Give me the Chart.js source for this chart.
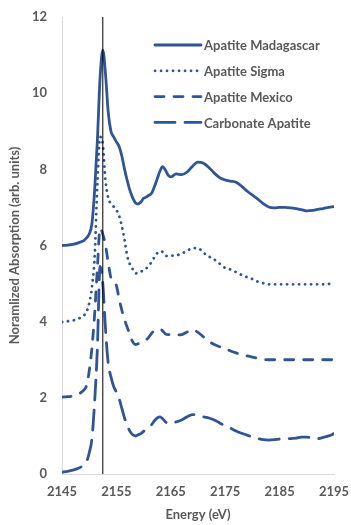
<!DOCTYPE html>
<html>
<head>
<meta charset="utf-8">
<script src="https://cdn.jsdelivr.net/npm/chart.js@4/dist/chart.umd.min.js"></script>
<style>
  html, body { margin: 0; padding: 0; background: #ffffff; }
  #wrap { width: 351px; height: 525px; }
</style>
</head>
<body>
<div id="wrap"><canvas id="c" width="351" height="525"></canvas></div>
<script>
// Photon energy grid (eV), finer across the absorption edge
const energy = [
  2145, 2146, 2147, 2148, 2149,
  2149.5, 2150, 2150.5, 2151, 2151.5, 2152, 2152.5, 2153, 2153.5, 2154, 2154.5,
  2155, 2155.5, 2156, 2156.5, 2157, 2157.5, 2158, 2158.5, 2159, 2159.5,
  2160, 2160.5, 2161, 2161.5, 2162, 2162.5, 2163, 2163.5, 2164, 2164.5, 2165,
  2166, 2167, 2168, 2169, 2170, 2171, 2172, 2173, 2174, 2175, 2176, 2177, 2178,
  2179, 2180, 2181, 2182, 2183, 2184, 2185, 2186, 2187, 2188, 2189, 2190, 2191,
  2192, 2193, 2194, 2195
];

// Normalized absorption, each spectrum stacked with a vertical offset
const apatiteMadagascar = [
  6.00, 6.01, 6.03, 6.07, 6.13,
  6.20, 6.30, 6.57, 7.45, 8.75, 10.4, 11.13, 10.5, 9.5, 9.0, 8.85,
  8.72, 8.60, 8.35, 8.00, 7.70, 7.44, 7.25, 7.12, 7.09, 7.14,
  7.24, 7.27, 7.32, 7.38, 7.55, 7.75, 7.95, 8.07, 7.98, 7.85, 7.80,
  7.88, 7.86, 7.93, 8.08, 8.19, 8.16, 8.05, 7.90, 7.78, 7.72, 7.69, 7.66, 7.56,
  7.43, 7.32, 7.22, 7.10, 7.01, 6.99, 7.00, 7.00, 6.99, 6.97, 6.94, 6.91, 6.92,
  6.95, 6.97, 7.00, 7.02
];
const apatiteSigma = [
  3.99, 4.01, 4.03, 4.08, 4.16,
  4.26, 4.48, 4.90, 5.70, 7.60, 8.85, 8.65, 7.70, 7.25, 7.10, 7.02,
  6.93, 6.78, 6.50, 6.15, 5.72, 5.50, 5.38, 5.27, 5.28, 5.31,
  5.36, 5.40, 5.48, 5.57, 5.70, 5.80, 5.85, 5.83, 5.74, 5.72, 5.73,
  5.74, 5.79, 5.86, 5.93, 5.93, 5.81, 5.71, 5.63, 5.52, 5.41, 5.37, 5.30, 5.23,
  5.17, 5.12, 5.05, 5.01, 4.98, 4.98, 4.98, 4.98, 4.98, 4.98, 4.98, 4.98, 4.98,
  4.98, 4.98, 4.99, 4.99
];
const apatiteMexico = [
  2.02, 2.03, 2.05, 2.10, 2.20,
  2.32, 2.70, 3.30, 4.20, 5.40, 6.45, 6.30, 6.00, 5.55, 5.15, 5.05,
  4.95, 4.60, 4.30, 4.05, 3.85, 3.65, 3.47, 3.40, 3.42, 3.46,
  3.50, 3.53, 3.60, 3.70, 3.76, 3.80, 3.80, 3.76, 3.68, 3.66, 3.66,
  3.65, 3.66, 3.73, 3.79, 3.72, 3.60, 3.48, 3.40, 3.34, 3.29, 3.23, 3.18, 3.14,
  3.10, 3.07, 3.04, 3.01, 3.00, 3.00, 3.00, 3.00, 3.00, 3.00, 3.00, 3.00, 3.00,
  3.00, 3.00, 3.00, 3.00
];
const carbonateApatite = [
  0.05, 0.07, 0.10, 0.15, 0.24,
  0.32, 0.55, 0.93, 1.90, 3.30, 5.45, 5.00, 3.80, 2.90, 2.55, 2.30,
  2.15, 1.98, 1.72, 1.47, 1.27, 1.12, 1.03, 1.00, 1.03, 1.06,
  1.12, 1.18, 1.24, 1.30, 1.40, 1.47, 1.50, 1.45, 1.37, 1.33, 1.33,
  1.37, 1.42, 1.50, 1.56, 1.54, 1.50, 1.47, 1.42, 1.34, 1.26, 1.20, 1.13, 1.07,
  1.02, 0.97, 0.93, 0.90, 0.89, 0.90, 0.92, 0.93, 0.93, 0.94, 0.97, 0.97, 0.94,
  0.93, 0.96, 1.00, 1.06
];

const seriesNames = ['Apatite Madagascar', 'Apatite Sigma', 'Apatite Mexico', 'Carbonate Apatite'];
const edgeEnergy = 2152.5;
const xTicks = [2145, 2155, 2165, 2175, 2185, 2195];
const yTicks = [0, 2, 4, 6, 8, 10, 12];

const BLUE = '#2f5597';
const GREY = '#595959';
const FONT = 'Lato, "Open Sans", sans-serif';

const toPoints = vals => energy.map((e, i) => ({ x: e, y: vals[i] }));

function spectrum(label, vals, dash) {
  return {
    label,
    data: toPoints(vals),
    borderColor: BLUE,
    backgroundColor: BLUE,
    borderWidth: 2.8,
    borderDash: dash,
    borderCapStyle: 'round',
    borderJoinStyle: 'round',
    pointRadius: 0,
    fill: false,
    cubicInterpolationMode: 'monotone'
  };
}

// Legend drawn inside the plot area, upper right
const insideLegend = {
  id: 'insideLegend',
  afterDatasetsDraw(chart, args, opts) {
    const ctx = chart.ctx;
    ctx.save();
    chart.data.datasets.forEach((ds, i) => {
      if (!ds.inLegend) return;
      const y = opts.top + i * opts.spacing;
      ctx.strokeStyle = ds.borderColor;
      ctx.lineWidth = ds.borderWidth;
      ctx.lineCap = 'round';
      ctx.setLineDash(ds.borderDash || []);
      ctx.beginPath();
      ctx.moveTo(opts.left, y);
      ctx.lineTo(opts.left + opts.sample, y);
      ctx.stroke();
      ctx.setLineDash([]);
      ctx.fillStyle = GREY;
      ctx.font = 'bold 13px ' + FONT;
      ctx.textAlign = 'left';
      ctx.textBaseline = 'middle';
      ctx.fillText(ds.label, opts.left + opts.sample + 3, y + 1);
    });
    ctx.restore();
  }
};

const datasets = [
  spectrum(seriesNames[0], apatiteMadagascar, []),
  spectrum(seriesNames[1], apatiteSigma, [0.1, 5.9]),
  spectrum(seriesNames[2], apatiteMexico, [9, 10]),
  spectrum(seriesNames[3], carbonateApatite, [20, 10])
];
datasets.forEach(d => { d.inLegend = true; });

// Marker at the absorption edge energy
datasets.push({
  label: 'edge',
  data: [{ x: edgeEnergy, y: 0 }, { x: edgeEnergy, y: 12 }],
  borderColor: '#000000',
  borderWidth: 1,
  pointRadius: 0,
  fill: false,
  tension: 0,
  order: -1
});

const tickFont = { family: FONT, size: 13, weight: 'bold' };

new Chart(document.getElementById('c'), {
  type: 'line',
  data: { datasets },
  plugins: [insideLegend],
  options: {
    responsive: false,
    animation: false,
    layout: { padding: { top: 17, right: 17, left: 0, bottom: 0 } },
    plugins: {
      legend: { display: false },
      tooltip: { enabled: false },
      insideLegend: { left: 155, top: 45, spacing: 25.8, sample: 46 }
    },
    scales: {
      x: {
        type: 'linear',
        min: 2145, max: 2195,
        afterBuildTicks: s => { s.ticks = xTicks.map(v => ({ value: v })); },
        afterFit: s => { s.height = 51; s.paddingLeft = 0; s.paddingRight = 0; },
        grid: { display: true, drawOnChartArea: false, drawTicks: false, color: '#d9d9d9' },
        border: { display: true, color: '#d9d9d9', width: 1 },
        ticks: { color: GREY, font: tickFont, padding: 10, maxRotation: 0, callback: v => String(v) },
        title: { display: true, text: 'Energy (eV)', color: GREY, font: tickFont, padding: { top: 4, bottom: 2 } }
      },
      y: {
        type: 'linear',
        min: 0, max: 12,
        afterBuildTicks: s => { s.ticks = yTicks.map(v => ({ value: v })); },
        afterFit: s => { s.width = 62; s.paddingTop = 0; s.paddingBottom = 0; },
        grid: { display: true, drawOnChartArea: false, drawTicks: false, color: '#d9d9d9' },
        border: { display: true, color: '#d9d9d9', width: 1 },
        ticks: { color: GREY, font: tickFont, padding: 15, callback: v => String(v) },
        title: { display: true, text: 'Noramlized Absorption (arb. units)', color: GREY, font: tickFont, padding: { top: 7, bottom: 5 } }
      }
    }
  }
});
</script>
</body>
</html>
